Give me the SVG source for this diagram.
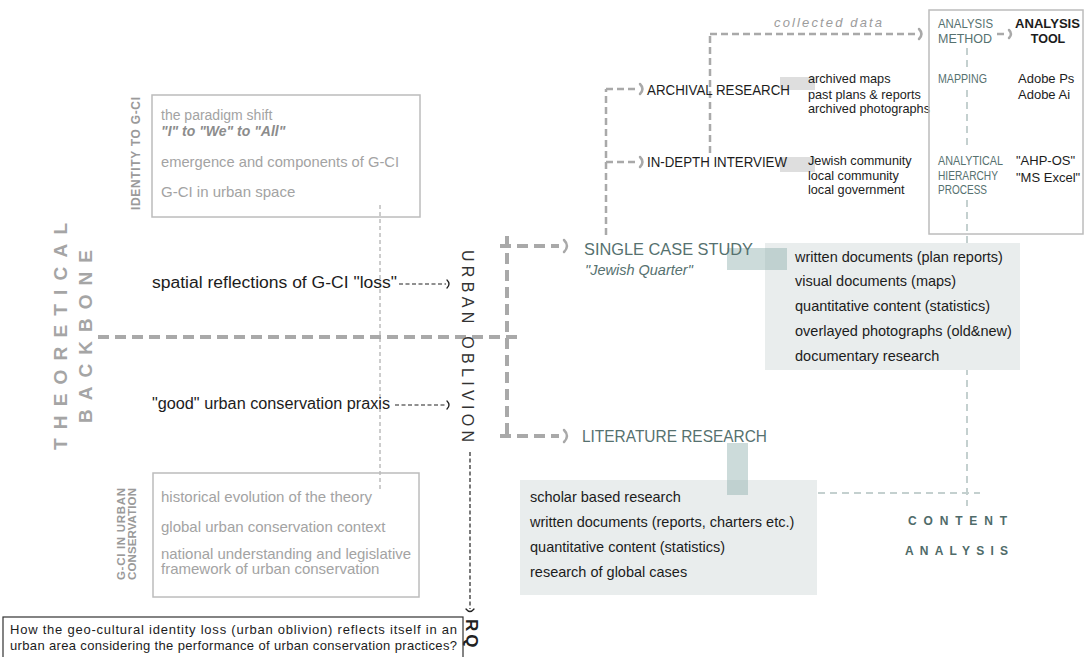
<svg xmlns="http://www.w3.org/2000/svg" width="1086" height="657" viewBox="0 0 1086 657">
  <style>
    text { font-family: "Liberation Sans", Arial, sans-serif; }
    .gray { fill: #a3a3a3; }
    .grayb { fill: #9a9a9a; font-weight: bold; }
    .blk { fill: #1c1c1c; }
    .teal { fill: #56716f; }
    .frame { fill: none; stroke: #bcbcbc; stroke-width: 1.5; }
    .thick { fill: none; stroke: #a9a9a9; stroke-width: 4; stroke-dasharray: 11 6; }
    .mid { fill: none; stroke: #a9a9a9; stroke-width: 2.5; stroke-dasharray: 7 4; }
    .thin { fill: none; stroke: #9a9a9a; stroke-width: 1; stroke-dasharray: 4 3; }
    .ink { fill: none; stroke: #222; stroke-width: 1.2; stroke-dasharray: 4 2.5; }
    .light { fill: none; stroke: #c4d0cf; stroke-width: 2; stroke-dasharray: 7 5; }
    .chevG { fill: none; stroke: #a9a9a9; stroke-width: 2.5; stroke-linecap: round; }
    .chevK { fill: none; stroke: #222; stroke-width: 1.3; stroke-linecap: round; }
    .shade { fill: #e9eded; }
    .tab { fill: #8fb0ae; opacity: 0.45; }
    .chip { fill: #dedede; }
    .list { font-size: 14.5px; }
    .small { font-size: 12.7px; }
    .cell { font-size: 12px; }
  </style>

  <!-- vertical side titles -->
  <g id="theoretical-backbone">
    <text fill="#a5a5a5" font-weight="bold" font-size="19" transform="translate(67,450) rotate(-90)" textLength="227" lengthAdjust="spacing">THEORETICAL</text>
    <text fill="#a5a5a5" font-weight="bold" font-size="19" transform="translate(92,423) rotate(-90)" textLength="173" lengthAdjust="spacing">BACKBONE</text>
  </g>

  <!-- connectors -->
  <g id="connectors">
    <!-- backbone axis -->
    <line class="thick" x1="98" y1="337" x2="518" y2="337"/>
    <line class="thin" x1="380" y1="205" x2="380" y2="492"/>
    <!-- branch to the two research strands -->
    <line class="thick" x1="507" y1="236" x2="507" y2="440"/>
    <line class="thick" x1="500" y1="246" x2="559" y2="246"/>
    <path class="chevG" d="M564,240 Q570,246 564,252"/>
    <line class="thick" x1="500" y1="436" x2="559" y2="436"/>
    <path class="chevG" d="M564,430 Q570,436 564,442"/>
    <!-- arrows into URBAN OBLIVION -->
    <line class="ink" x1="399" y1="284" x2="446" y2="284"/>
    <path class="chevK" d="M447,280 Q451,284 447,288"/>
    <line class="ink" x1="395" y1="405" x2="446" y2="405"/>
    <path class="chevK" d="M447,401 Q451,405 447,409"/>
    <!-- URBAN OBLIVION down to RQ -->
    <line class="ink" x1="470" y1="452" x2="470" y2="609"/>
    <path class="chevK" d="M466,609 Q470,614 474,609"/>
    <!-- case study to data collection -->
    <line class="mid" x1="606" y1="235" x2="606" y2="89"/>
    <line class="mid" x1="606" y1="89" x2="638" y2="89"/>
    <path class="chevG" d="M640,84 Q645,89 640,94"/>
    <line class="mid" x1="606" y1="162" x2="638" y2="162"/>
    <path class="chevG" d="M640,157 Q645,162 640,167"/>
    <!-- collected data -->
    <line class="mid" x1="710" y1="153" x2="710" y2="34"/>
    <line class="mid" x1="710" y1="34" x2="916" y2="34"/>
    <path class="chevG" d="M919,29 Q924,34 919,39"/>
    <line class="mid" x1="997" y1="34" x2="1007" y2="34"/>
    <path class="chevG" d="M1009,30 Q1013,34 1009,38"/>
    <!-- content analysis lines -->
    <line class="light" x1="967" y1="48" x2="967" y2="71"/>
    <line class="light" x1="967" y1="90" x2="967" y2="150"/>
    <line class="light" x1="967" y1="200" x2="967" y2="506"/>
    <line class="light" x1="818" y1="493" x2="980" y2="493"/>
  </g>

  <g id="identity-to-gci">
    <rect class="frame" x="152" y="95" width="268" height="122"/>
    <text class="grayb" font-size="12" transform="translate(140,210) rotate(-90)" textLength="113" lengthAdjust="spacing">IDENTITY TO G-CI</text>
    <text class="gray" font-size="14" x="161" y="120">the paradigm shift</text>
    <text fill="#8c8c8c" font-size="14" font-weight="bold" font-style="italic" x="161" y="136">"I" to "We" to "All"</text>
    <text class="gray" font-size="15" x="161" y="167" textLength="238" lengthAdjust="spacingAndGlyphs">emergence and components of G-CI</text>
    <text class="gray" font-size="15" x="161" y="197">G-CI in urban space</text>
  </g>

  <g id="gci-in-urban-conservation">
    <rect class="frame" x="153" y="473" width="266" height="124"/>
    <text class="grayb" font-size="11.5" transform="translate(125,580) rotate(-90)" textLength="92" lengthAdjust="spacing">G-CI IN URBAN</text>
    <text class="grayb" font-size="11.5" transform="translate(136,580) rotate(-90)" textLength="92" lengthAdjust="spacing">CONSERVATION</text>
    <text class="gray" font-size="15" x="161" y="502">historical evolution of the theory</text>
    <text class="gray" font-size="15" x="161" y="532">global urban conservation context</text>
    <text class="gray" font-size="15" x="161" y="559" textLength="250" lengthAdjust="spacingAndGlyphs">national understanding and legislative</text>
    <text class="gray" font-size="15" x="161" y="574">framework of urban conservation</text>
  </g>

  <g id="spatial-reflections">
    <text class="blk" font-size="16" x="152" y="288" textLength="245" lengthAdjust="spacingAndGlyphs">spatial reflections of G-CI "loss"</text>
  </g>

  <g id="good-praxis">
    <text class="blk" font-size="16" x="152" y="409" textLength="238" lengthAdjust="spacingAndGlyphs">"good" urban conservation praxis</text>
  </g>

  <g id="urban-oblivion">
    <text fill="#333" font-size="16" transform="translate(462,250) rotate(90)" textLength="192" lengthAdjust="spacing">URBAN OBLIVION</text>
  </g>

  <g id="research-question">
    <rect x="3" y="617" width="460" height="45" fill="#fff" stroke="#333" stroke-width="1.2"/>
    <text class="blk" font-size="13" x="10" y="634" textLength="447" lengthAdjust="spacing">How the geo-cultural identity loss (urban oblivion) reflects itself in an</text>
    <text class="blk" font-size="13" x="10" y="650" textLength="447" lengthAdjust="spacing">urban area considering the performance of urban conservation practices?</text>
    <text fill="#222" font-size="17" font-weight="bold" letter-spacing="3" transform="translate(466,619) rotate(90)">RQ</text>
  </g>

  <g id="single-case-study">
    <rect class="shade" x="765" y="243" width="255" height="127"/>
    <rect class="tab" x="727" y="248" width="60" height="22"/>
    <text class="teal" font-size="16.5" x="584" y="255" textLength="169" lengthAdjust="spacingAndGlyphs">SINGLE CASE STUDY</text>
    <text class="teal" font-size="14.5" font-style="italic" x="585" y="275">"Jewish Quarter"</text>
    <text class="blk list" x="795" y="262">written documents (plan reports)</text>
    <text class="blk list" x="795" y="286">visual documents (maps)</text>
    <text class="blk list" x="795" y="311">quantitative content (statistics)</text>
    <text class="blk list" x="795" y="336">overlayed photographs (old&amp;new)</text>
    <text class="blk list" x="795" y="361">documentary research</text>
  </g>

  <g id="literature-research">
    <rect class="shade" x="520" y="480" width="297" height="115"/>
    <rect class="tab" x="727" y="443" width="21" height="52"/>
    <text class="teal" font-size="16.5" x="582" y="442" textLength="185" lengthAdjust="spacingAndGlyphs">LITERATURE RESEARCH</text>
    <text class="blk list" x="530" y="502">scholar based research</text>
    <text class="blk list" x="530" y="527">written documents (reports, charters etc.)</text>
    <text class="blk list" x="530" y="552">quantitative content (statistics)</text>
    <text class="blk list" x="530" y="577">research of global cases</text>
  </g>

  <g id="archival-research">
    <rect class="chip" x="780" y="77" width="35" height="13"/>
    <text class="blk" font-size="14" x="647" y="95" textLength="143" lengthAdjust="spacingAndGlyphs">ARCHIVAL RESEARCH</text>
    <text class="blk small" x="808" y="83">archived maps</text>
    <text class="blk small" x="808" y="99">past plans &amp; reports</text>
    <text class="blk small" x="808" y="113">archived photographs</text>
  </g>

  <g id="in-depth-interview">
    <rect class="chip" x="780" y="157" width="35" height="15"/>
    <text class="blk" font-size="14" x="647" y="167" textLength="140" lengthAdjust="spacingAndGlyphs">IN-DEPTH INTERVIEW</text>
    <text class="blk small" x="808" y="165">Jewish community</text>
    <text class="blk small" x="808" y="180">local community</text>
    <text class="blk small" x="808" y="194">local government</text>
  </g>

  <g id="collected-data">
    <text fill="#9c9c9c" font-size="13" font-style="italic" x="774" y="27" textLength="108" lengthAdjust="spacing">collected data</text>
  </g>

  <g id="analysis-table">
    <rect class="frame" x="929" y="10" width="154" height="224"/>
    <text class="teal cell" x="938" y="28" textLength="55" lengthAdjust="spacingAndGlyphs">ANALYSIS</text>
    <text class="teal cell" x="938" y="43" textLength="54" lengthAdjust="spacingAndGlyphs">METHOD</text>
    <text class="blk" font-size="12.5" font-weight="bold" x="1015" y="28" textLength="65" lengthAdjust="spacingAndGlyphs">ANALYSIS</text>
    <text class="blk" font-size="12.5" font-weight="bold" x="1048" y="43" text-anchor="middle">TOOL</text>
    <text class="teal cell" x="938" y="83" textLength="49" lengthAdjust="spacingAndGlyphs">MAPPING</text>
    <text class="blk" font-size="13" x="1018" y="83">Adobe Ps</text>
    <text class="blk" font-size="13" x="1018" y="99">Adobe Ai</text>
    <text class="teal cell" x="938" y="165" textLength="65" lengthAdjust="spacingAndGlyphs">ANALYTICAL</text>
    <text class="teal cell" x="938" y="180" textLength="60" lengthAdjust="spacingAndGlyphs">HIERARCHY</text>
    <text class="teal cell" x="938" y="194" textLength="49" lengthAdjust="spacingAndGlyphs">PROCESS</text>
    <text class="blk" font-size="13" x="1016" y="165">"AHP-OS"</text>
    <text class="blk" font-size="13" x="1016" y="182">"MS Excel"</text>
  </g>

  <g id="content-analysis">
    <text fill="#4f6b69" font-size="12" font-weight="bold" x="908" y="525" textLength="99" lengthAdjust="spacing">CONTENT</text>
    <text fill="#4f6b69" font-size="12" font-weight="bold" x="905" y="555" textLength="103" lengthAdjust="spacing">ANALYSIS</text>
  </g>
</svg>
